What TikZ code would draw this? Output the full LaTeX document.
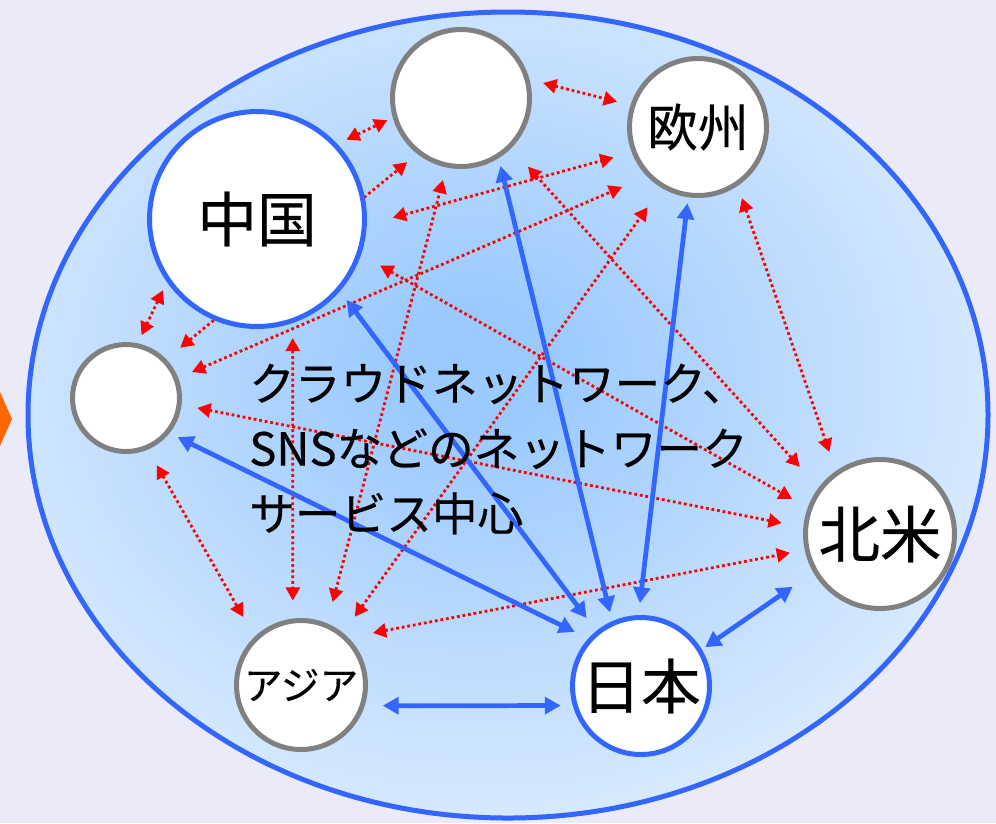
\documentclass[tikz,border=0pt]{standalone}
\usepackage{fontspec}
\setmainfont{Noto Sans CJK JP}[FakeBold=0.4]
\usetikzlibrary{arrows.meta}
\definecolor{slidebg}{RGB}{234,234,248}
\definecolor{netblue}{RGB}{51,102,255}
\definecolor{sitegray}{RGB}{128,128,128}
\definecolor{glowin}{RGB}{155,202,255}
\definecolor{glowout}{RGB}{222,237,253}
\definecolor{tiporange}{RGB}{255,102,0}
\pgfdeclarelayer{bg}
\pgfdeclarelayer{links}
\pgfsetlayers{bg,links,main}
\pgfdeclareradialshading{cloudglow}{\pgfpoint{-2bp}{3bp}}%
  {color(0bp)=(glowin); color(4bp)=(glowin); color(30bp)=(glowout); color(100bp)=(glowout)}
\newcommand\jfont[1]{\fontsize{#1}{#1}\selectfont}
\tikzset{
	site/.style = {circle, draw=sitegray, line width=0.1cm, fill=white, inner sep=0pt},
	hub/.style = {site, draw=netblue},
	redlink/.style = {
		red, line width=1.6pt, dash pattern=on 1.6pt off 1.6pt,
		{Triangle[length=7.5pt,width=8pt]}-{Triangle[length=7.5pt,width=8pt]}
	},
	bluelink/.style = {
		netblue, line width=2.7pt,
		{Triangle[length=9pt,width=9.5pt]}-{Triangle[length=9pt,width=9.5pt]}
	}
}

\begin{document}
\begin{tikzpicture}[x=0.02cm, y=-0.02cm]
	\useasboundingbox (0,0) rectangle (996,823);
	\begin{pgfonlayer}{bg}
		\fill[slidebg] (0,0) rectangle (996,823);
		\shade[shading=cloudglow] (508,415) ellipse [x radius=480, y radius=403];
		\draw[netblue, line width=0.1cm] (508,415) ellipse [x radius=480, y radius=403];
		\fill[tiporange] (0,392) -- (12,419) -- (0,446) -- cycle;
	\end{pgfonlayer}

	\node[site, minimum size=2.74cm] (topsite) at (461,98) {};
	\node[site, minimum size=2.74cm, font=\jfont{29pt}] (europe) at (698,127) {欧州};
	\node[hub, minimum size=4.3cm, font=\jfont{34pt}] (china) at (257,219) {中国};
	\node[site, minimum size=2.14cm] (leftsite) at (126,398) {};
	\node[site, minimum size=2.58cm, font=\jfont{22pt}] (asia) at (301,685) {アジア};
	\node[hub, minimum size=2.74cm, font=\jfont{34pt}] (japan) at (641,686) {日本};
	\node[site, minimum size=2.98cm, font=\jfont{35pt}] (namerica) at (880,534) {北米};
	\node[anchor=west, align=left, font=\fontsize{26pt}{37pt}\selectfont] (motto) at (243,449)
		{クラウドネットワーク、\\SNSなどのネットワーク\\サービス中心};

	\begin{pgfonlayer}{links}
		% every pair of the outer sites
		\foreach \from/\to/\s/\e in {
			china.43/topsite.196/0.2cm/0.12cm,
			topsite.15/europe.162/0.28cm/0.28cm,
			china.215/leftsite.78/0.18cm/0.18cm,
			leftsite.293/asia.134/0.36cm/0.46cm,
			europe.304/namerica.125/0.26cm/0.4cm,
			asia.45/namerica.192/0.5cm/0.3cm,
			leftsite.44/topsite.232/0.36cm/0.26cm,
			china.357/europe.201/0.54cm/0.38cm,
			china.341/namerica.160/0.44cm/0.36cm,
			china.289/asia.97/0.3cm/0.36cm,
			leftsite.21/europe.224/0.3cm/0.54cm,
			asia.51/europe.239/0.4cm/0.48cm,
			asia.67/topsite.258/0.44cm/0.26cm,
			topsite.315/namerica.143/0.5cm/0.56cm,
			leftsite.353/namerica.175/0.32cm/0.44cm}
		{
			\draw[redlink, shorten <=\s, shorten >=\e] (\from) -- (\to);
		}
		% japan to everyone
		\foreach \from/\to/\s/\e in {
			asia.342/japan.196/0.36cm/0.24cm,
			japan.31/namerica.210/0.08cm/0.5cm,
			leftsite.321/japan.138/0.18cm/0.3cm,
			china.319/japan.129/0.22cm/0.32cm,
			topsite.302/japan.114/0.16cm/0.18cm,
			europe.262/japan.92/0.12cm/0.24cm}
		{
			\draw[bluelink, shorten <=\s, shorten >=\e] (\from) -- (\to);
		}
	\end{pgfonlayer}
\end{tikzpicture}
\end{document}
